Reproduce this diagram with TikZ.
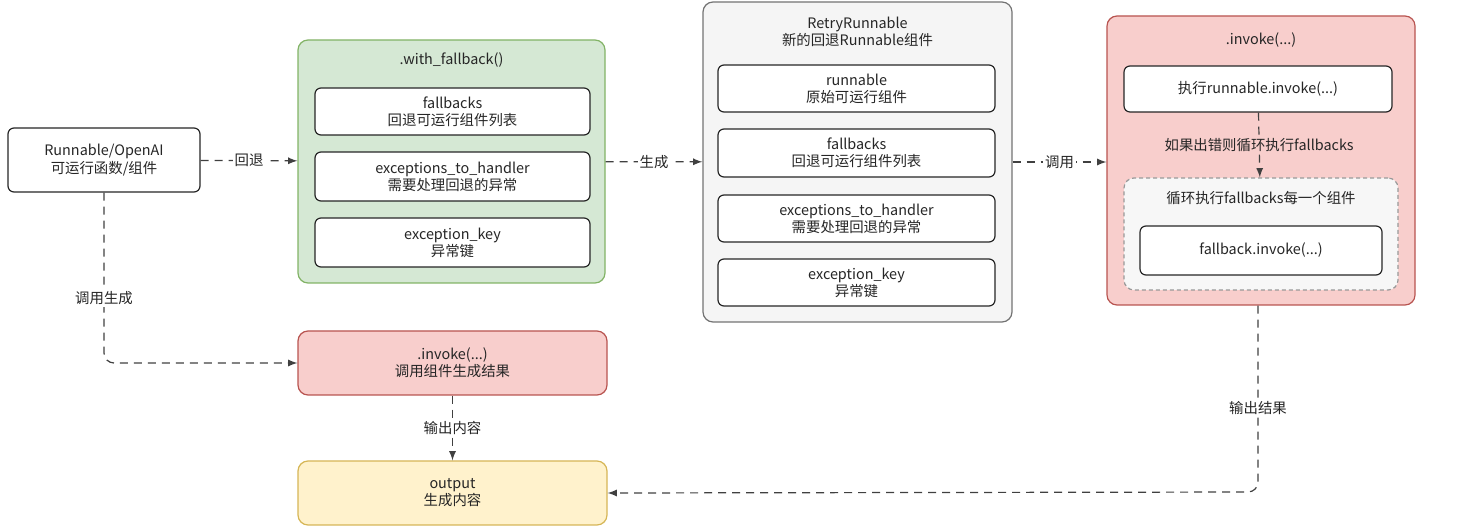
\documentclass[tikz,border=0pt]{standalone}
\usepackage{fontspec}
\setmainfont{Noto Sans CJK SC}
\definecolor{gF}{HTML}{D5E8D4}\definecolor{gD}{HTML}{82B366}
\definecolor{rF}{HTML}{F8CECC}\definecolor{rD}{HTML}{B85450}
\definecolor{yF}{HTML}{FFF2CC}\definecolor{yD}{HTML}{D6B656}
\begin{document}
\begin{tikzpicture}[x=0.5pt,y=-0.5pt,
  every node/.style={font=\fontsize{7.2}{8.6}\selectfont, align=center, text=black!85},
  box/.style={draw=black!85, line width=0.6pt, rounded corners=3pt, fill=white},
  grp/.style={line width=0.6pt, rounded corners=5pt},
  dl/.style={draw=black!75, line width=0.6pt, dash pattern=on 4pt off 3pt, -latex},
  lbl/.style={fill=white, inner sep=1pt}]
\useasboundingbox (0,0) rectangle (1461,528);
\newcommand{\bx}[5]{\node[box, minimum width=#3*0.5pt, minimum height=#4*0.5pt] (#1) at (#2) {#5};}
% left
\bx{run}{104,160}{192}{64}{Runnable/OpenAI\\可运行函数/组件}
% green
\node[grp, draw=gD, fill=gF, minimum width=153.5pt, minimum height=121.5pt] (wf) at (451.5,161.5) {};
\node at (451.5,60) (wft) {.with\_fallback()};
\bx{wf1}{452.5,111.5}{275}{47}{fallbacks\\回退可运行组件列表}
\bx{wf2}{452.5,176.5}{275}{49}{exceptions\_to\_handler\\需要处理回退的异常}
\bx{wf3}{452.5,242.5}{275}{49}{exception\_key\\异常键}
% gray
\node[grp, draw=black!55, fill=black!4, minimum width=154.5pt, minimum height=160pt] (rr) at (857.5,162) {};
\node (rrt) at (857.5,32) {RetryRunnable\\新的回退Runnable组件};
\bx{rr1}{856.5,88.5}{277}{47}{runnable\\原始可运行组件}
\bx{rr2}{856.5,153}{277}{48}{fallbacks\\回退可运行组件列表}
\bx{rr3}{856.5,218.5}{277}{47}{exceptions\_to\_handler\\需要处理回退的异常}
\bx{rr4}{856.5,282.5}{277}{47}{exception\_key\\异常键}
% red right
\node[grp, draw=rD, fill=rF, minimum width=154pt, minimum height=144.5pt] (iv) at (1261,160.5) {};
\node (ivt) at (1261,40) {.invoke(...)};
\bx{iv1}{1258,89}{268}{46}{执行runnable.invoke(...)}
\node[grp, draw=black!40, dash pattern=on 2pt off 1.5pt, fill=black!3, minimum width=137pt, minimum height=56pt] (lp) at (1261,234) {};
\node (lpt) at (1261,198) {循环执行fallbacks每一个组件};
\bx{iv2}{1261,250.5}{242}{49}{fallback.invoke(...)}
\draw[dl] (iv1) -- node[lbl, fill=rF]{如果出错则循环执行fallbacks} (lp);
% invoke & output
\node[grp, draw=rD, fill=rF, minimum width=154.5pt, minimum height=32pt] (inv) at (452.5,363) {.invoke(...)\\调用组件生成结果};
\node[grp, draw=yD, fill=yF, minimum width=154.5pt, minimum height=32pt] (out) at (452.5,493) {output\\生成内容};
% connectors
\draw[dl] (run) -- node[lbl]{回退} (wf);
\draw[dl] (wf) -- node[lbl]{生成} (rr);
\draw[dl] (rr) -- node[lbl]{调用} (iv.west |- rr);
\draw[dl, rounded corners=5pt] (run.south) -- node[lbl, pos=0.62]{调用生成} (104,363) -- (inv.west);
\draw[dl] (inv) -- node[lbl]{输出内容} (out);
\draw[dl, rounded corners=5pt] (iv.south -| 1258,0) -- node[lbl, pos=0.55]{输出结果} (1258,492) -- (out.east);
\end{tikzpicture}
\end{document}
